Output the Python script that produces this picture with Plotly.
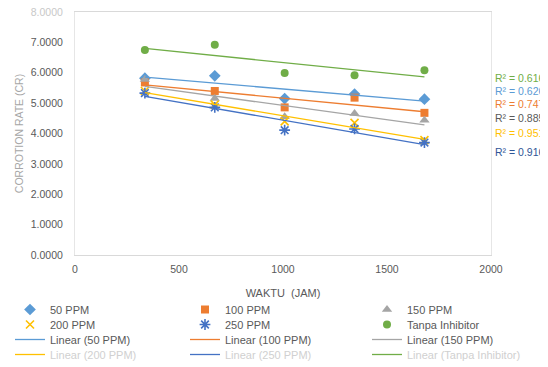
import numpy as np
import plotly.graph_objects as go

waktu = [336, 672, 1008, 1344, 1680]
series_names = ["50 PPM", "100 PPM", "150 PPM", "200 PPM", "250 PPM", "Tanpa Inhibitor"]
cr_50 = [5.82, 5.90, 5.15, 5.30, 5.13]
cr_100 = [5.68, 5.40, 4.86, 5.18, 4.68]
cr_150 = [5.78, 5.15, 4.55, 4.66, 4.44]
cr_200 = [5.40, 4.95, 4.40, 4.35, 3.78]
cr_250 = [5.33, 4.86, 4.11, 4.15, 3.70]
cr_tanpa = [6.75, 6.92, 5.99, 5.92, 6.08]
r2_labels = ["R² = 0.6165", "R² = 0.6268", "R² = 0.7476", "R² = 0.8850", "R² = 0.9519", "R² = 0.9168"]
y_ticks = [0, 1, 2, 3, 4, 5, 6, 7, 8]
x_ticks = [0, 500, 1000, 1500, 2000]

values = [cr_50, cr_100, cr_150, cr_200, cr_250, cr_tanpa]
colors = ["#5B9BD5", "#ED7D31", "#A5A5A5", "#FFC000", "#4472C4", "#70AD47"]
symbols = ["diamond", "square", "triangle-up", "x-thin-open", "asterisk-open", "circle"]
sizes = [9, 8, 9, 8, 9, 8]

# page body has an 8px default margin -> work in screen pixels, subtract offset
OFF = 8
W, H = 548 - OFF, 367 - OFF
plot_top, plot_bot, plot_left, plot_right = 12 - OFF, 255 - OFF, 75 - OFF, 491 - OFF
pw, ph = plot_right - plot_left, plot_bot - plot_top


def px2paper_x(sx):
    return (sx - OFF - plot_left) / pw


def px2paper_y(sy):
    return (plot_bot - (sy - OFF)) / ph


# legend grid: 3 columns x 4 rows, one small legend per cell
col_x = [10, 185, 367]
row_top = [295, 310, 325, 340]
row_color = ["#595959", "#595959", "#595959", "#D0D0D0"]


def legend_id(row, col):
    k = row * 3 + col + 1
    return "legend" if k == 1 else f"legend{k}"


fig = go.Figure()
for i, (name, vals, c, s, sz) in enumerate(zip(series_names, values, colors, symbols, sizes)):
    marker = dict(color=c, symbol=s, size=sz)
    if s.endswith("open"):
        marker["line"] = dict(color=c, width=1.6)
    fig.add_trace(go.Scatter(x=waktu, y=vals, mode="markers", name=name, marker=marker,
                             legend=legend_id(i // 3, i % 3)))

xs = np.array(waktu, dtype=float)
for i, (name, vals, c) in enumerate(zip(series_names, values, colors)):
    m, b = np.polyfit(xs, np.array(vals), 1)
    xl = [xs.min(), xs.max()]
    yl = [m * xl[0] + b, m * xl[1] + b]
    fig.add_trace(go.Scatter(x=xl, y=yl, mode="lines", name=f"Linear ({name})",
                             line=dict(color=c, width=1.3),
                             legend=legend_id(2 + i // 3, i % 3)))

# R² labels (top to bottom as in the chart)
r2_colors = ["#70AD47", "#5B9BD5", "#ED7D31", "#595959", "#FFC000", "#2F5597"]
r2_py = [78, 91, 104, 118, 133, 152]
for lab, col, py in zip(r2_labels, r2_colors, r2_py):
    fig.add_annotation(text=lab, x=px2paper_x(493), y=px2paper_y(py), xref="paper", yref="paper",
                       showarrow=False, xanchor="left", yanchor="middle",
                       font=dict(size=10.5, color=col, family="Liberation Sans"))


def leg(x_px, top_px, color):
    return dict(orientation="v", x=px2paper_x(x_px), y=px2paper_y(top_px),
                xanchor="left", yanchor="top", tracegroupgap=0,
                font=dict(size=11, color=color), itemwidth=30, bgcolor="rgba(0,0,0,0)",
                traceorder="normal")


y_ticktext = [f"{v:.4f}" for v in y_ticks]
y_ticktext[-1] = f'<span style="color:#C8C8C8">{y_ticktext[-1]}</span>'

legends = {}
for r, (top, colr) in enumerate(zip(row_top, row_color)):
    for cidx, x in enumerate(col_x):
        legends[legend_id(r, cidx)] = leg(x, top, colr)

fig.update_layout(
    width=W, height=H,
    margin=dict(l=plot_left, r=W - plot_right, t=plot_top, b=H - plot_bot, autoexpand=False),
    paper_bgcolor="white", plot_bgcolor="white",
    font=dict(family="Liberation Sans", size=11, color="#595959"),
    xaxis=dict(range=[0, 2000], tickvals=x_ticks, showgrid=False, zeroline=False,
               showline=True, linecolor="#D9D9D9", mirror=True, ticks="",
               ticklabelstandoff=4, ticklabeloverflow="allow",
               tickfont=dict(size=10.5, color="#595959"),
               title=dict(text="WAKTU  (JAM)", font=dict(size=11, color="#595959"), standoff=15)),
    yaxis=dict(range=[0, 8], tickvals=y_ticks, ticktext=y_ticktext, showgrid=False, zeroline=False,
               showline=True, linecolor="#E6E6E6", mirror=True, ticks="",
               ticklabelstandoff=9, ticklabeloverflow="allow",
               tickfont=dict(size=10.5, color="#595959"),
               title=dict(text="CORROTION RATE (CR)", font=dict(size=10.5, color="#A6A6A6"), standoff=5)),
    showlegend=True,
    **legends,
)
fig.write_html("out.html")
